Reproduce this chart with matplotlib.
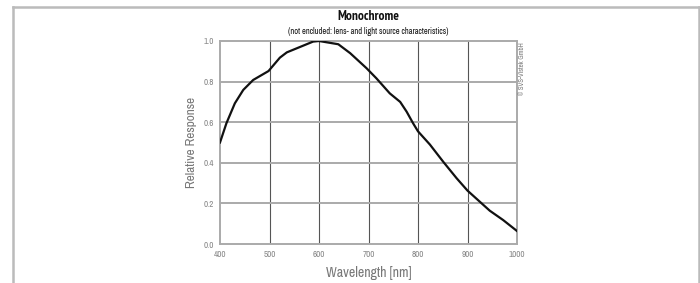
import matplotlib
matplotlib.use("Agg")
import matplotlib.pyplot as plt
from matplotlib.lines import Line2D
from matplotlib import font_manager as fm

wavelength = [400, 413, 430, 447, 467, 498, 521, 535, 555, 588, 600, 639, 663, 696,
              716, 743, 764, 777, 790, 800, 824, 851, 878, 900, 925, 945, 972, 1000]
response = [0.50, 0.595, 0.693, 0.759, 0.808, 0.852, 0.918, 0.944, 0.964, 0.997, 1.0,
            0.984, 0.94, 0.866, 0.816, 0.742, 0.70, 0.652, 0.595, 0.555, 0.490, 0.405,
            0.324, 0.263, 0.208, 0.164, 0.118, 0.064]
xticks = [400, 500, 600, 700, 800, 900, 1000]
yticks = [0.0, 0.2, 0.4, 0.6, 0.8, 1.0]
ytick_labels = ["0.0", "0.2", "0.4", "0.6", "0.8", "1.0"]


def pick(bold_wanted):
    best = None
    for f in fm.fontManager.ttflist:
        if f.style != "normal":
            continue
        path = f.fname.lower()
        nm = f.name.lower()
        isbold = f.weight in (700, "bold") or "bold" in path
        if isbold != bold_wanted:
            continue
        if "narrow" in nm or "narrow" in path:
            return f.fname
        if ("condensed" in path or "condensed" in nm) and best is None:
            best = f.fname
    return best


reg = pick(False)
bld = pick(True)
FP = fm.FontProperties(fname=reg) if reg else fm.FontProperties(family="DejaVu Sans")
FPB = fm.FontProperties(fname=bld) if bld else FP

fig = plt.figure(figsize=(7.0, 2.83), dpi=100)
W, H = 700, 283
ax = fig.add_axes([220 / W, 1 - 244 / H, 297 / W, 203 / H])

ax.set_xlim(400, 1000)
ax.set_ylim(0, 1.0)
ax.set_xticks(xticks)
ax.set_yticks(yticks)
ax.set_xticklabels([str(v) for v in xticks], fontproperties=FP, fontsize=6.5)
ax.set_yticklabels(ytick_labels, fontproperties=FP, fontsize=6.5)

for v in xticks[1:-1]:
    ax.axvline(v, color="#555555", lw=0.8, zorder=1)
for v in yticks[1:-1]:
    ax.axhline(v, color="#aaaaaa", lw=1.4, zorder=1)

ax.plot(wavelength, response, color="#111111", lw=1.6, zorder=3)

for s in ax.spines.values():
    s.set_color("#aaaaaa")
    s.set_linewidth(1.4)

ax.tick_params(length=0, pad=4, colors="#888888")
ax.set_xlabel("Wavelength [nm]", fontproperties=FP, fontsize=10, color="#777777", labelpad=5)
ax.set_ylabel("Relative Response", fontproperties=FP, fontsize=9.5, color="#777777", labelpad=5)

fig.text(368 / W, 1 - 17 / H, "Monochrome", ha="center", va="center",
         fontproperties=FPB, fontsize=9.5, color="#111111")
fig.text(368 / W, 1 - 32 / H, "(not encluded: lens- and light source characteristics)",
         ha="center", va="center", fontproperties=FP, fontsize=6, color="#111111")
fig.text(522 / W, 1 - 42 / H, "\u00a9 SVS-Vistek GmbH", ha="center", va="top",
         rotation=90, fontproperties=FP, fontsize=5, color="#777777")

fig.add_artist(Line2D([13 / W, 699 / W], [1 - 7 / H, 1 - 7 / H], transform=fig.transFigure,
                      color="#bbbbbb", lw=1.8))
fig.add_artist(Line2D([13 / W, 13 / W], [0, 1 - 7 / H], transform=fig.transFigure,
                      color="#bbbbbb", lw=1.8))
fig.add_artist(Line2D([699 / W, 699 / W], [0, 1 - 7 / H], transform=fig.transFigure,
                      color="#bbbbbb", lw=1.8))

fig.savefig("out.png", dpi=100)
